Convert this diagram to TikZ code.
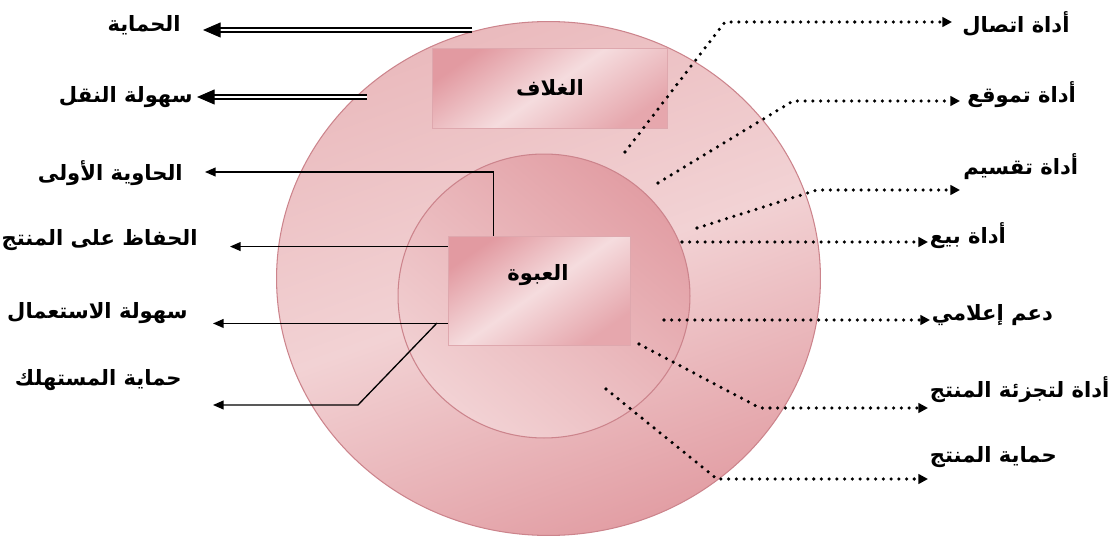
\documentclass[tikz,border=0pt]{standalone}
\usepackage{fontspec}
\usepackage{tikz}
\usetikzlibrary{calc,positioning,arrows.meta,shapes.geometric}
\usepackage{xcolor}
\newfontfamily\arabicfont[Script=Arabic]{DejaVu Sans}
\TeXXeTstate=1
\newcommand{\artext}[1]{\beginR #1\endR}
\definecolor{ringdark}{RGB}{226,158,164}
\definecolor{ringmid}{RGB}{234,186,189}
\definecolor{ringlight}{RGB}{242,210,212}
\definecolor{ringedge}{RGB}{204,132,140}
\definecolor{boxdark}{RGB}{226,154,161}
\definecolor{boxlight}{RGB}{245,220,222}
\definecolor{boxedge}{RGB}{222,168,174}

\begin{document}
\begin{tikzpicture}[x=0.02cm,y=-0.02cm,>=Latex]
  \tikzset{
    disc/.style={ellipse,draw=ringedge,line width=0.6pt,inner sep=0pt},
    box/.style={rectangle,draw=boxedge,line width=0.5pt,inner sep=0pt,
                left color=boxdark,right color=boxdark!80!boxlight,middle color=boxlight,shading angle=35},
    lbl/.style={font=\arabicfont\bfseries\fontsize{12}{14}\selectfont,inner sep=0pt},
    leftlbl/.style={lbl,anchor=east,inner xsep=0.44cm},
    rightlbl/.style={lbl,anchor=west,inner xsep=0.03cm},
    arrowline/.style={draw=black,line width=0.75pt,-{Triangle[length=6pt,width=5pt]}},
    twin/.style={draw=black,line width=1pt,double,double distance=1.3pt},
    twintip/.style={draw=black,line width=0.6pt,-{Triangle[length=10pt,width=8.5pt]}},
    dots/.style={draw=black,line width=2pt,line cap=round,dash pattern=on 0pt off 4.4pt,
                 -{Triangle[length=5.5pt,width=5.5pt]}},
  }
  \useasboundingbox (0,0) rectangle (1120,537);

  \node[disc,minimum width=10.88cm,minimum height=10.28cm,
        left color=ringmid,right color=ringdark,middle color=ringlight,shading angle=20] (outer) at (548.5,278.5) {};
  \node[disc,minimum width=5.84cm,minimum height=5.68cm,
        top color=ringdark,bottom color=ringlight,shading angle=-40] (inner) at (544,296) {};
  \node[box,minimum width=4.7cm,minimum height=1.6cm] (wrap) at (549.5,88) {};
  \node[lbl] (wraptext) at (550,88) {\artext{الغلاف}};
  \node[box,minimum width=3.64cm,minimum height=2.18cm] (pack) at (539,290.5) {};
  \node[lbl] (packtext) at (538,275) {\artext{العبوة}};

  \node[leftlbl] (protect) at (203,25) {\artext{الحماية}};
  \node[leftlbl,inner xsep=0.08cm] (transport) at (197,97) {\artext{سهولة النقل}};
  \node[leftlbl] (primary) at (205,173) {\artext{الحاوية الأولى}};
  \node[leftlbl,inner xsep=0.64cm] (keep) at (230,240) {\artext{الحفاظ على المنتج}};
  \node[leftlbl,inner xsep=0.5cm] (use) at (213,313) {\artext{سهولة الاستعمال}};
  \node[leftlbl,inner xsep=0.62cm] (consumer) at (213,380) {\artext{حماية المستهلك}};

  \node[rightlbl,inner xsep=0.2cm] (contact) at (952,24) {\artext{أداة اتصال}};
  \node[rightlbl,inner xsep=0.14cm] (position) at (960,95) {\artext{أداة تموقع}};
  \node[rightlbl,inner xsep=0.06cm] (divide) at (960,167) {\artext{أداة تقسيم}};
  \node[rightlbl] (sell) at (928,236) {\artext{أداة بيع}};
  \node[rightlbl] (media) at (930,315) {\artext{دعم إعلامي}};
  \node[rightlbl] (portion) at (928,390) {\artext{أداة لتجزئة المنتج}};
  \node[rightlbl] (guard) at (928,457) {\artext{حماية المنتج}};

  \coordinate (a1) at (472,30);
  \coordinate (b1) at (367,97);
  \coordinate (c1) at ($(pack.north west)!0.25!(pack.north east)$);
  \coordinate (c2) at (c1 |- 0,172);
  \coordinate (d1) at ($(pack.north west)!0.1!(pack.south west)$);
  \coordinate (e1) at ($(pack.north west)!0.8!(pack.south west)$);
  \coordinate (f1) at (437,323);
  \coordinate (f2) at (358,405);

  \draw[twin] (a1) -- ($(protect.east |- a1)+(14,0)$);
  \draw[twintip] ($(protect.east |- a1)+(16,0)$) -- (protect.east |- a1);
  \draw[twin] (b1) -- ($(transport.east |- b1)+(14,0)$);
  \draw[twintip] ($(transport.east |- b1)+(16,0)$) -- (transport.east |- b1);
  \draw[arrowline] (c1) -- (c2) -- (primary.east |- c2);
  \draw[arrowline] (d1) -- (keep.east |- d1);
  \draw[arrowline] (e1) -- (use.east |- e1);
  \draw[arrowline] (f1) -- (f2) -- (consumer.east |- f2);

  \coordinate (p1) at (625,152); \coordinate (q1) at (725,22);
  \coordinate (p2) at (658,183); \coordinate (q2) at (793,101);
  \coordinate (p3) at (697,228); \coordinate (q3) at (817,190);
  \coordinate (p4) at (682,242);
  \coordinate (p5) at (664,320);
  \coordinate (p6) at (639,344); \coordinate (q6) at (760,408);
  \coordinate (p7) at (606,389); \coordinate (q7) at (717,479);

  \draw[dots] (p1) -- (q1) -- (contact.west |- q1);
  \draw[dots] (p2) -- (q2) -- (position.west |- q2);
  \draw[dots] (p3) -- (q3) -- (divide.west |- q3);
  \draw[dots] (p4) -- (sell.west |- p4);
  \draw[dots] (p5) -- (media.west |- p5);
  \draw[dots] (p6) -- (q6) -- (portion.west |- q6);
  \draw[dots] (p7) -- (q7) -- (guard.west |- q7);
\end{tikzpicture}
\end{document}
